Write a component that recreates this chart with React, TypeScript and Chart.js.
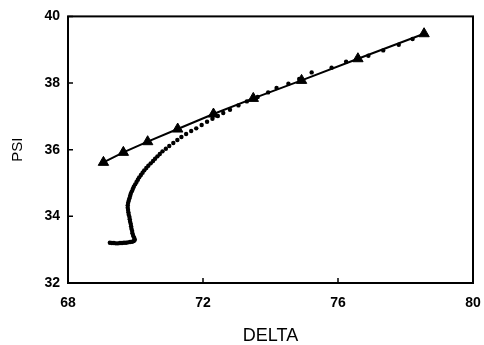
import React, { useEffect, useRef } from "react";
import { Chart, registerables } from "chart.js";

Chart.register(...registerables);

// Triangle series (connected by a line)
const triX = [69.05, 69.64, 70.36, 71.25, 72.31, 73.49, 74.92, 76.59, 78.55];
const triY = [35.62, 35.92, 36.24, 36.62, 37.07, 37.54, 38.08, 38.73, 39.48];

// Dotted series (trajectory)
const dotX = [
  69.24, 69.30, 69.36, 69.42, 69.48, 69.54, 69.60, 69.66, 69.72, 69.78,
  69.84, 69.90, 69.95, 69.98, 69.96, 69.93, 69.91, 69.90, 69.88, 69.87,
  69.86, 69.84, 69.83, 69.82, 69.80, 69.79, 69.78, 69.77, 69.77, 69.78,
  69.80, 69.82, 69.84, 69.86, 69.89, 69.92, 69.95, 69.99, 70.03, 70.07,
  70.11, 70.16, 70.21, 70.26, 70.32, 70.38, 70.45, 70.52, 70.58, 70.65,
  70.72, 70.80, 70.90, 71.00, 71.12, 71.24, 71.36, 71.50, 71.65, 71.80,
  71.96, 72.12, 72.28, 72.44, 72.60, 72.80, 73.05, 73.30, 73.62, 73.93,
  74.18, 74.53, 74.85, 75.22, 75.81, 76.24, 76.90, 77.34, 77.80, 78.21,
];
const dotY = [
  33.21, 33.20, 33.20, 33.19, 33.19, 33.20, 33.20, 33.21, 33.21, 33.22,
  33.23, 33.24, 33.26, 33.30, 33.36, 33.42, 33.49, 33.56, 33.63, 33.70,
  33.77, 33.84, 33.91, 33.98, 34.05, 34.12, 34.19, 34.26, 34.33, 34.40,
  34.47, 34.54, 34.61, 34.68, 34.75, 34.82, 34.89, 34.96, 35.03, 35.10,
  35.17, 35.24, 35.31, 35.38, 35.45, 35.52, 35.59, 35.66, 35.73, 35.80,
  35.87, 35.95, 36.03, 36.11, 36.20, 36.29, 36.38, 36.47, 36.56, 36.64,
  36.74, 36.84, 36.93, 37.01, 37.10, 37.20, 37.33, 37.45, 37.58, 37.72,
  37.85, 37.98, 38.12, 38.32, 38.46, 38.64, 38.82, 38.98, 39.15, 39.32,
];

const xTicks = [68, 72, 76, 80];
const yTicks = [32, 34, 36, 38, 40];

const FONT = "'Liberation Sans', Arial, Helvetica, sans-serif";

const framePlugin = {
  id: "frame",
  afterDatasetsDraw(chart: any) {
    const { ctx, chartArea, scales } = chart;
    const { left, right, top, bottom } = chartArea;
    ctx.save();
    ctx.strokeStyle = "#000";
    ctx.lineWidth = 2;
    ctx.strokeRect(left, top, right - left, bottom - top);
    ctx.lineWidth = 1.5;
    ctx.beginPath();
    for (const v of xTicks) {
      const px = scales.x.getPixelForValue(v);
      ctx.moveTo(px, bottom);
      ctx.lineTo(px, bottom - 5);
    }
    for (const v of yTicks) {
      const py = scales.y.getPixelForValue(v);
      ctx.moveTo(left, py);
      ctx.lineTo(left + 5, py);
    }
    ctx.stroke();
    ctx.restore();
  },
};

export default function App() {
  const ref = useRef<HTMLCanvasElement | null>(null);

  useEffect(() => {
    if (!ref.current) return;
    const chart = new Chart(ref.current, {
      type: "scatter",
      data: {
        datasets: [
          {
            label: "dots",
            data: dotX.map((x, i) => ({ x, y: dotY[i] })),
            showLine: false,
            pointRadius: 2.2,
            pointBackgroundColor: "#000",
            pointBorderWidth: 0,
            borderColor: "#000",
          },
          {
            label: "triangles",
            data: triX.map((x, i) => ({ x, y: triY[i] })),
            showLine: true,
            borderColor: "#000",
            borderWidth: 2,
            pointStyle: "triangle",
            pointRadius: 6,
            pointBackgroundColor: "#000",
            pointBorderColor: "#000",
            pointBorderWidth: 1,
          },
        ],
      },
      options: {
        responsive: false,
        animation: false,
        layout: { padding: { top: 13.6, right: 0, left: 0, bottom: 0 } },
        plugins: { legend: { display: false }, tooltip: { enabled: false } },
        scales: {
          x: {
            type: "linear",
            min: 68,
            max: 80,
            afterFit: (s: any) => {
              s.height = 62;
              s.paddingRight = 11;
            },
            afterBuildTicks: (s: any) => {
              s.ticks = xTicks.map((v) => ({ value: v }));
            },
            grid: { display: false, drawTicks: false },
            border: { display: false },
            ticks: {
              color: "#000",
              padding: 12,
              maxRotation: 0,
              font: { family: FONT, size: 14, weight: "bold" },
            },
            title: {
              display: true,
              text: "DELTA",
              color: "#000",
              font: { family: FONT, size: 18, lineHeight: 1 },
              padding: { top: 0, bottom: 0 },
            },
          },
          y: {
            type: "linear",
            min: 32,
            max: 40,
            afterFit: (s: any) => {
              s.width = 68;
            },
            afterBuildTicks: (s: any) => {
              s.ticks = yTicks.map((v) => ({ value: v }));
            },
            grid: { display: false, drawTicks: false },
            border: { display: false },
            ticks: {
              color: "#000",
              padding: 8,
              font: { family: FONT, size: 14, weight: "bold" },
            },
            title: {
              display: true,
              text: "PSI",
              color: "#000",
              font: { family: FONT, size: 15, lineHeight: 1.2 },
              padding: { top: 9, bottom: 0 },
            },
          },
        },
      },
      plugins: [framePlugin],
    });
    return () => chart.destroy();
  }, []);

  return (
    <div style={{ position: "fixed", left: 0, top: 0, width: 484, height: 345, background: "#fff" }}>
      <canvas ref={ref} width={484} height={345} />
    </div>
  );
}
